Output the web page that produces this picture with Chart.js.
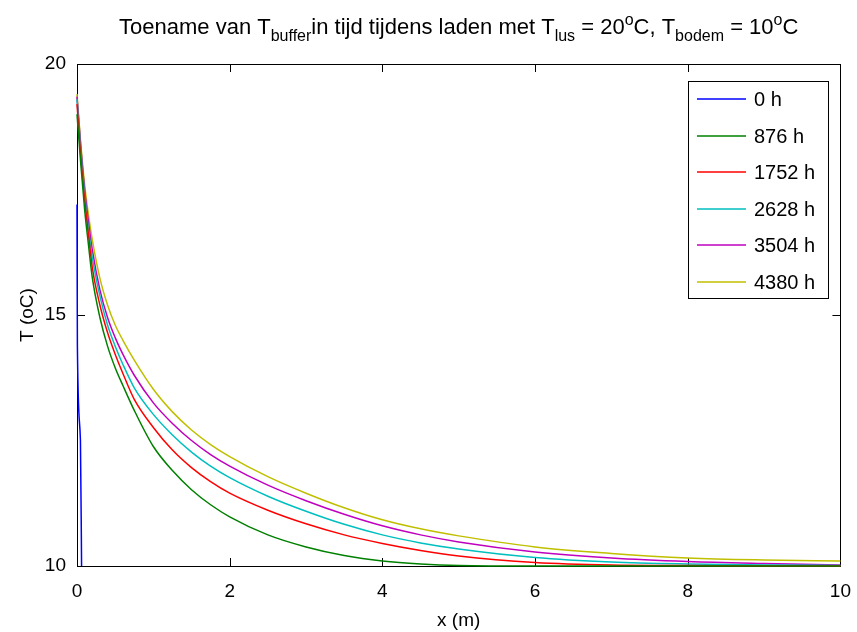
<!DOCTYPE html>
<html>
<head>
<meta charset="utf-8">
<script src="https://cdn.jsdelivr.net/npm/chart.js@4.4.1/dist/chart.umd.min.js"></script>
<style>
  html, body { margin: 0; padding: 0; background: #fff; }
  #wrap { width: 857px; height: 632px; }
</style>
</head>
<body>
<div id="wrap"><canvas id="chart" width="857" height="632"></canvas></div>
<script>
// x positions (m) shared by the curves
const xs = [0, 0.05, 0.1, 0.15, 0.2, 0.3, 0.4, 0.5, 0.6, 0.75, 1, 1.25, 1.5, 1.75, 2, 2.5, 3, 3.5, 4, 4.5, 5, 6, 7, 8, 9, 10];

// T (oC) per time step
const t876  = [19.0, 18.0, 17.1, 16.4, 15.75, 14.95, 14.38, 13.95, 13.6, 13.1, 12.38, 11.9, 11.52, 11.22, 10.98, 10.62, 10.38, 10.21, 10.10, 10.04, 10.01, 10.0, 10.0, 10.0, 10.0, 10.0];
const t1752 = [19.2, 18.15, 17.3, 16.6, 15.95, 15.2, 14.65, 14.22, 13.84, 13.32, 12.76, 12.31, 11.96, 11.68, 11.45, 11.11, 10.84, 10.62, 10.45, 10.31, 10.2, 10.07, 10.02, 10.01, 10.0, 10.0];
const t2628 = [19.3, 18.25, 17.4, 16.7, 16.15, 15.38, 14.8, 14.38, 14.02, 13.55, 13.02, 12.61, 12.27, 11.99, 11.76, 11.39, 11.09, 10.83, 10.62, 10.46, 10.34, 10.17, 10.08, 10.04, 10.02, 10.01];
const t3504 = [19.35, 18.35, 17.5, 16.85, 16.3, 15.5, 14.95, 14.55, 14.22, 13.8, 13.25, 12.84, 12.5, 12.22, 11.99, 11.61, 11.3, 11.03, 10.8, 10.62, 10.48, 10.28, 10.16, 10.09, 10.05, 10.02];
const t4380 = [19.4, 18.4, 17.6, 17.0, 16.5, 15.73, 15.2, 14.8, 14.5, 14.1, 13.52, 13.07, 12.71, 12.42, 12.18, 11.78, 11.45, 11.16, 10.92, 10.74, 10.6, 10.38, 10.25, 10.16, 10.12, 10.10];

// 0 h curve has its own x positions
const x0h = [0, 0.005, 0.045, 0.06];
const t0h = [17.2, 14.4, 12.5, 10.0];

const labels = ['0 h', '876 h', '1752 h', '2628 h', '3504 h', '4380 h'];
const colors = ['#0000ff', '#008000', '#ff0000', '#00bfbf', '#bf00bf', '#bfbf00'];

const xTicks = [0, 2, 4, 6, 8, 10];
const yTicks = [10, 15, 20];

function pts(xv, yv) {
    return xv.map((x, i) => ({ x: x, y: yv[i] }));
}

const series = [pts(x0h, t0h), pts(xs, t876), pts(xs, t1752), pts(xs, t2628), pts(xs, t3504), pts(xs, t4380)];

const FONT = 'Liberation Sans, Arial, sans-serif';

// MATLAB style frame + inward ticks, under the curves
const framePlugin = {
    id: 'frame',
    beforeDatasetsDraw(chart) {
        const ctx = chart.ctx;
        const a = chart.chartArea;
        const sx = chart.scales.x, sy = chart.scales.y;
        ctx.save();
        ctx.strokeStyle = '#000';
        ctx.lineWidth = 1;
        ctx.strokeRect(Math.round(a.left) + 0.5, Math.round(a.top) + 0.5,
            Math.round(a.right - a.left), Math.round(a.bottom - a.top));
        const tl = 8;
        ctx.beginPath();
        xTicks.forEach(v => {
            const px = Math.round(sx.getPixelForValue(v)) + 0.5;
            ctx.moveTo(px, a.bottom); ctx.lineTo(px, a.bottom - tl);
            ctx.moveTo(px, a.top); ctx.lineTo(px, a.top + tl);
        });
        yTicks.forEach(v => {
            const py = Math.round(sy.getPixelForValue(v)) + 0.5;
            ctx.moveTo(a.left, py); ctx.lineTo(a.left + tl, py);
            ctx.moveTo(a.right, py); ctx.lineTo(a.right - tl, py);
        });
        ctx.stroke();
        ctx.restore();
    }
};

// Title with sub/superscripts and boxed legend
const textPlugin = {
    id: 'texts',
    afterDraw(chart) {
        const ctx = chart.ctx;
        const a = chart.chartArea;
        ctx.save();

        const parts = [
            ['Toename van T', 0], ['buffer', 1], ['in tijd tijdens laden met T', 0], ['lus', 1],
            [' = 20', 0], ['o', 2], ['C, T', 0], ['bodem', 1], [' = 10', 0], ['o', 2], ['C', 0]
        ];
        const fMain = '22px ' + FONT, fSmall = '16px ' + FONT;
        let total = 0;
        parts.forEach(p => { ctx.font = p[1] ? fSmall : fMain; total += ctx.measureText(p[0]).width; });
        let cx = (a.left + a.right) / 2 - total / 2;
        const base = 34;
        ctx.fillStyle = '#000';
        ctx.textBaseline = 'alphabetic';
        ctx.textAlign = 'left';
        parts.forEach(p => {
            ctx.font = p[1] ? fSmall : fMain;
            const dy = p[1] === 1 ? 7 : (p[1] === 2 ? -9 : 0);
            ctx.fillText(p[0], cx, base + dy);
            cx += ctx.measureText(p[0]).width;
        });

        const lx = 688.5, ly = 81.5, lw = 140, lh = 217;
        ctx.fillStyle = '#fff';
        ctx.fillRect(lx, ly, lw, lh);
        ctx.strokeStyle = '#000';
        ctx.lineWidth = 1;
        ctx.strokeRect(lx, ly, lw, lh);
        ctx.font = '20px ' + FONT;
        ctx.textBaseline = 'middle';
        labels.forEach((lab, i) => {
            const y = Math.round(99 + i * 36.5);
            ctx.strokeStyle = colors[i];
            ctx.lineWidth = 1.5;
            ctx.beginPath();
            ctx.moveTo(697, y); ctx.lineTo(746, y);
            ctx.stroke();
            ctx.fillStyle = '#000';
            ctx.fillText(lab, 754, y + 1);
        });
        ctx.restore();
    }
};

new Chart(document.getElementById('chart'), {
    type: 'line',
    data: {
        datasets: series.map((d, i) => ({
            label: labels[i],
            data: d,
            borderColor: colors[i],
            borderWidth: 1.5,
            pointRadius: 0,
            cubicInterpolationMode: 'monotone',
            clip: 2,
            fill: false
        }))
    },
    options: {
        responsive: false,
        animation: false,
        parsing: false,
        layout: { padding: { top: 64, right: 15, left: 0, bottom: 0 } },
        plugins: {
            legend: { display: false },
            title: { display: false },
            tooltip: { enabled: false }
        },
        scales: {
            x: {
                type: 'linear',
                min: 0, max: 10,
                afterBuildTicks: s => { s.ticks = xTicks.map(v => ({ value: v })); },
                afterFit: s => { s.height = 66; },
                grid: { display: false },
                border: { display: false },
                ticks: { color: '#000', padding: 6, font: { family: FONT, size: 19 } },
                title: { display: true, text: 'x (m)', color: '#000', padding: { top: 1, bottom: 0 }, font: { family: FONT, size: 19 } }
            },
            y: {
                type: 'linear',
                min: 10, max: 20,
                afterBuildTicks: s => { s.ticks = yTicks.map(v => ({ value: v })); },
                afterFit: s => { s.width = 77; },
                grid: { display: false },
                border: { display: false },
                ticks: { color: '#000', padding: 3, font: { family: FONT, size: 19 } },
                title: { display: true, text: 'T (oC)', color: '#000', padding: { top: 16, bottom: 0 }, font: { family: FONT, size: 19 } }
            }
        }
    },
    plugins: [framePlugin, textPlugin]
});
</script>
</body>
</html>
